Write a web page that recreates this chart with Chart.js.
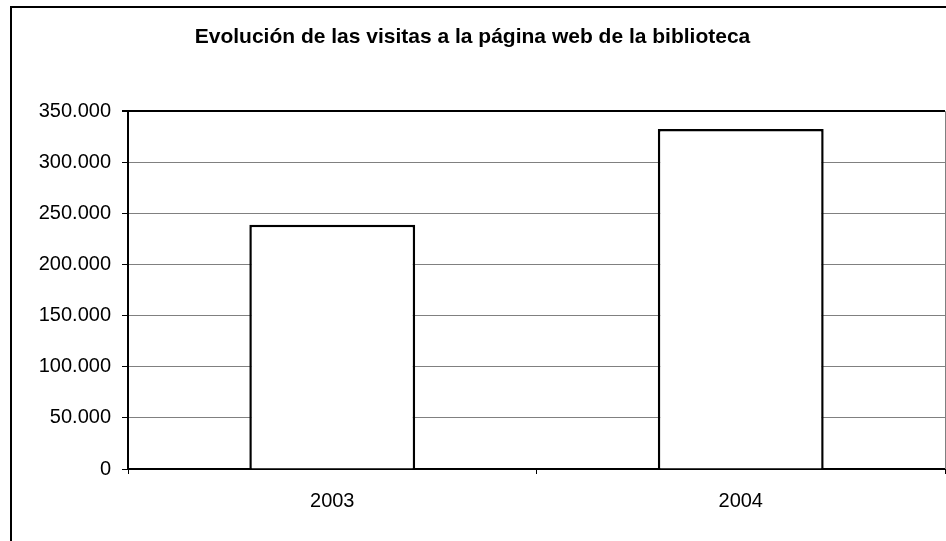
<!DOCTYPE html>
<html>
<head>
<meta charset="utf-8">
<script src="https://cdn.jsdelivr.net/npm/chart.js@4/dist/chart.umd.min.js"></script>
<style>
  html, body { margin: 0; padding: 0; background: #fff; }
  #wrap { position: relative; width: 946px; height: 541px; overflow: hidden; }
  #frame { position: absolute; left: 10px; top: 6px; width: 2000px; height: 2000px;
           border-left: 2px solid #000; border-top: 2px solid #000; }
  canvas { position: absolute; left: 0; top: 0; }
</style>
</head>
<body>
<div id="wrap">
  <div id="frame"></div>
  <canvas id="chart" width="946" height="541"></canvas>
</div>
<script>
// datos del gráfico
const categories = ['2003', '2004'];
const visitas = [239000, 332500];
const yMax = 350000;
const yStep = 50000;
const titulo = 'Evolución de las visitas a la página web de la biblioteca';

// formato con punto de miles
function fmt(v) {
  return String(v).replace(/\B(?=(\d{3})+(?!\d))/g, '.');
}

// borde derecho gris del área de trazado
const rightEdge = {
  id: 'rightEdge',
  afterDraw(chart) {
    const { ctx, chartArea } = chart;
    ctx.save();
    ctx.strokeStyle = '#808080';
    ctx.lineWidth = 1;
    ctx.beginPath();
    ctx.moveTo(chartArea.right + 0.5, chartArea.top);
    ctx.lineTo(chartArea.right + 0.5, chartArea.bottom);
    ctx.stroke();
    ctx.restore();
  }
};

const ctx = document.getElementById('chart').getContext('2d');
new Chart(ctx, {
  type: 'bar',
  data: {
    labels: categories,
    datasets: [{
      data: visitas,
      backgroundColor: '#ffffff',
      borderColor: '#000000',
      borderWidth: 2.5,
      barPercentage: 0.406,
      categoryPercentage: 1
    }]
  },
  options: {
    responsive: false,
    animation: false,
    layout: { padding: { left: 0, right: 1, top: 0, bottom: 0 } },
    plugins: {
      legend: { display: false },
      tooltip: { enabled: false },
      title: {
        display: true,
        text: titulo,
        color: '#000',
        font: { family: 'Liberation Sans, Arial, sans-serif', size: 21, weight: 'bold' },
        padding: { top: 25, bottom: 61 }
      }
    },
    scales: {
      x: {
        afterFit: s => { s.height = 72; },
        grid: {
          offset: true,
          drawOnChartArea: false,
          drawTicks: true,
          tickLength: 5,
          tickColor: '#000'
        },
        border: { display: true, color: '#000', width: 2 },
        ticks: {
          color: '#000',
          padding: 15,
          font: { family: 'Liberation Sans, Arial, sans-serif', size: 20 }
        }
      },
      y: {
        min: 0,
        max: yMax,
        afterFit: s => { s.width = 128; },
        grid: {
          color: ctx => ctx.tick && ctx.tick.value === yMax ? '#000' : '#808080',
          lineWidth: ctx => ctx.tick && ctx.tick.value === yMax ? 2 : 1,
          tickLength: 6,
          tickColor: '#000'
        },
        border: { display: true, color: '#000', width: 2 },
        ticks: {
          stepSize: yStep,
          color: '#000',
          padding: 11,
          font: { family: 'Liberation Sans, Arial, sans-serif', size: 20 },
          callback: v => fmt(v)
        }
      }
    }
  },
  plugins: [rightEdge]
});
</script>
</body>
</html>
